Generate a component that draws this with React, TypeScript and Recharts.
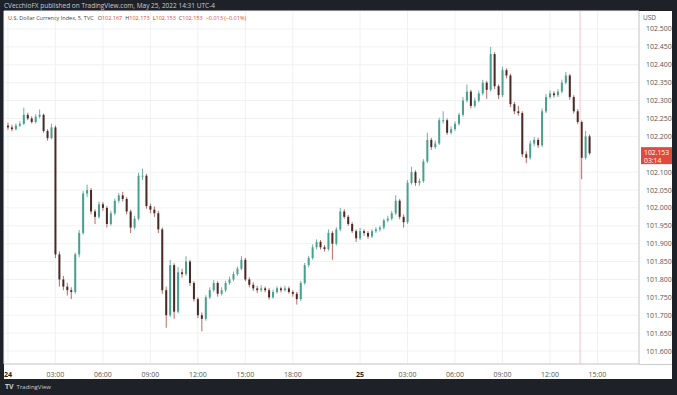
import React from 'react';
import { ComposedChart, Bar, XAxis, YAxis, CartesianGrid, ReferenceLine } from 'recharts';

// 15-minute candles, index 0 = 24 May 00:00
const firstOpen = 102.23;

const closes = [
  102.225, 102.22, 102.23, 102.235, 102.26, 102.25, 102.24, 102.255, 102.26, 102.215,
  102.195, 102.225, 101.87, 101.8, 101.78, 101.77, 101.765, 101.87, 101.93, 102.04,
  102.05, 101.99, 101.975, 102.01, 102.0, 101.955, 101.985, 102.02, 102.035, 102.025,
  101.99, 101.945, 101.97, 102.09, 102.09, 102.005, 101.995, 101.985, 101.94, 101.77,
  101.7, 101.84, 101.71, 101.82, 101.815, 101.85, 101.79, 101.745, 101.7, 101.69,
  101.75, 101.77, 101.79, 101.76, 101.77, 101.79, 101.8, 101.815, 101.83, 101.855,
  101.8, 101.785, 101.775, 101.77, 101.775, 101.77, 101.75, 101.765, 101.775, 101.77,
  101.775, 101.765, 101.76, 101.745, 101.79, 101.84, 101.86, 101.89, 101.905, 101.89,
  101.885, 101.93, 101.9, 101.94, 101.99, 101.975, 101.955, 101.935, 101.915, 101.935,
  101.93, 101.92, 101.935, 101.94, 101.945, 101.965, 101.97, 101.985, 102.02, 101.975,
  101.96, 102.07, 102.1, 102.07, 102.075, 102.13, 102.19, 102.17, 102.18, 102.245,
  102.245, 102.21, 102.22, 102.235, 102.26, 102.3, 102.325, 102.285, 102.3, 102.32,
  102.35, 102.33, 102.43, 102.34, 102.315, 102.385, 102.37, 102.29, 102.27, 102.265,
  102.15, 102.14, 102.18, 102.19, 102.175, 102.27, 102.31, 102.32, 102.315, 102.325,
  102.35, 102.37, 102.31, 102.27, 102.24, 102.14, 102.2, 102.153,
];

const highs = [
  102.238, 102.232, 102.236, 102.242, 102.28, 102.266, 102.256, 102.262, 102.275, 102.264,
  102.22, 102.235, 102.23, 101.878, 101.81, 101.79, 101.778, 101.875, 101.938, 102.048,
  102.065, 102.055, 101.996, 102.018, 102.016, 102.005, 101.992, 102.026, 102.042, 102.045,
  102.03, 101.995, 101.978, 102.098, 102.11, 102.095, 102.012, 102.004, 101.992, 101.945,
  101.78, 101.855, 101.845, 101.835, 101.83, 101.865, 101.855, 101.795, 101.75, 101.708,
  101.756, 101.778, 101.798, 101.795, 101.778, 101.796, 101.808, 101.822, 101.836, 101.865,
  101.86, 101.806, 101.792, 101.782, 101.784, 101.78, 101.776, 101.772, 101.781, 101.78,
  101.782, 101.78, 101.77, 101.765, 101.796, 101.846, 101.866, 101.898, 101.912, 101.91,
  101.896, 101.94, 101.935, 101.946, 102.0, 101.996, 101.98, 101.96, 101.94, 101.944,
  101.94, 101.935, 101.94, 101.946, 101.95, 101.97, 101.978, 101.992, 102.035, 102.025,
  101.982, 102.078, 102.115, 102.105, 102.082, 102.136, 102.21, 102.196, 102.188, 102.252,
  102.27, 102.25, 102.228, 102.242, 102.266, 102.31, 102.345, 102.33, 102.308, 102.328,
  102.358, 102.355, 102.45, 102.435, 102.345, 102.395, 102.39, 102.375, 102.296, 102.285,
  102.27, 102.158, 102.188, 102.198, 102.196, 102.278, 102.318, 102.328, 102.326, 102.332,
  102.358, 102.38, 102.374, 102.315, 102.276, 102.244, 102.215, 102.205,
];

const lows = [
  102.218, 102.214, 102.216, 102.226, 102.232, 102.245, 102.236, 102.236, 102.25, 102.21,
  102.188, 102.192, 101.86, 101.78, 101.77, 101.755, 101.745, 101.76, 101.862, 101.925,
  102.03, 101.982, 101.955, 101.97, 101.992, 101.945, 101.95, 101.98, 102.014, 102.018,
  101.982, 101.93, 101.94, 101.965, 102.078, 101.998, 101.985, 101.975, 101.93, 101.76,
  101.665, 101.695, 101.69, 101.705, 101.805, 101.81, 101.782, 101.738, 101.692, 101.655,
  101.685, 101.745, 101.765, 101.752, 101.755, 101.765, 101.785, 101.795, 101.81, 101.826,
  101.795, 101.778, 101.768, 101.762, 101.765, 101.764, 101.744, 101.746, 101.76, 101.764,
  101.766, 101.76, 101.752, 101.73, 101.74, 101.785, 101.834, 101.855, 101.884, 101.884,
  101.878, 101.88, 101.855, 101.895, 101.935, 101.97, 101.95, 101.93, 101.905, 101.91,
  101.922, 101.914, 101.916, 101.93, 101.934, 101.94, 101.96, 101.965, 101.98, 101.968,
  101.945, 101.955, 102.065, 102.062, 102.062, 102.07, 102.125, 102.162, 102.165, 102.176,
  102.236, 102.204, 102.205, 102.215, 102.23, 102.255, 102.295, 102.278, 102.28, 102.295,
  102.315, 102.305, 102.325, 102.332, 102.305, 102.31, 102.362, 102.282, 102.262, 102.258,
  102.142, 102.125, 102.135, 102.172, 102.168, 102.17, 102.265, 102.305, 102.308, 102.31,
  102.32, 102.345, 102.302, 102.264, 102.234, 102.08, 102.135, 102.148,
];

const timeTicks = [0, 12, 24, 36, 48, 60, 72, 89, 101, 113, 125, 137, 149];
const timeLabels = ['24', '03:00', '06:00', '09:00', '12:00', '15:00', '18:00', '25', '03:00', '06:00', '09:00', '12:00', '15:00'];
const dayLabels = ['24', '25'];

// 102.150 sits under the last-price tag, so it is not listed
const priceTicks = [
  101.6, 101.65, 101.7, 101.75, 101.8, 101.85, 101.9, 101.95, 102.0,
  102.05, 102.1, 102.2, 102.25, 102.3, 102.35, 102.4, 102.45, 102.5,
];

const lastPrice = 102.153;
const countdown = '03:14';
const markerIndex = 144.6;

const legendName = 'U.S. Dollar Currency Index, 5, TVC';
const legendKeys = ['O', 'H', 'L', 'C'];
const legendValues = ['102.167', '102.173', '102.153', '102.153'];
const legendChange = '\u22120.013 (\u22120.01%)';

const data = closes.map((c, i) => {
  const o = i === 0 ? firstOpen : closes[i - 1];
  return { i, o, h: highs[i], l: lows[i], c, range: [lows[i], highs[i]] };
});

const UP = '#48a08f';
const DOWN = '#a8443a';
const DOWN_BODY = '#4a2824';
const RED_TAG = '#df4a3c';
const FONT = '"Open Sans", "DejaVu Sans", sans-serif';

const Candle = (props: any) => {
  const { x, y, width, height, payload } = props;
  if (!payload) return null;
  const { o, h, l, c } = payload;
  const up = c >= o;
  const k = height / (h - l || 1);
  const yO = y + (h - o) * k;
  const yC = y + (h - c) * k;
  const top = Math.min(yO, yC);
  const bh = Math.max(1, Math.abs(yO - yC));
  const cx = x + width / 2;
  return (
    <g>
      <line x1={cx} x2={cx} y1={y} y2={y + height} stroke={up ? UP : DOWN} strokeWidth={0.8} />
      <rect x={x} y={top} width={width} height={bh} fill={up ? UP : DOWN_BODY} />
    </g>
  );
};

const TimeTick = (props: any) => {
  const { x, y, payload } = props;
  const idx = timeTicks.indexOf(payload.value);
  const label = timeLabels[idx] ?? '';
  const bold = dayLabels.includes(label) && (idx === 0 || idx === 7);
  return (
    <text
      x={x}
      y={y + 11}
      textAnchor="middle"
      fontSize={7}
      fontFamily={FONT}
      fontWeight={bold ? 700 : 400}
      fill={bold ? '#222' : '#555'}
    >
      {label}
    </text>
  );
};

const PriceTick = (props: any) => {
  const { x, y, payload } = props;
  return (
    <text x={x + 5} y={y + 2.5} textAnchor="start" fontSize={7} fontFamily={FONT} fill="#555">
      {payload.value.toFixed(3)}
    </text>
  );
};

const PriceTag = (props: any) => {
  const vb = props.viewBox || {};
  const right = (vb.x ?? 0) + (vb.width ?? 0);
  const yy = vb.y ?? 0;
  return (
    <g>
      <rect x={right + 2} y={yy - 6} width={31} height={17} fill={RED_TAG} />
      <text x={right + 5} y={yy + 2} fontSize={6.8} fontFamily={FONT} fill="#fff">
        {lastPrice.toFixed(3)}
      </text>
      <text x={right + 5} y={yy + 9.5} fontSize={6.8} fontFamily={FONT} fill="#fff">
        {countdown}
      </text>
    </g>
  );
};

export default function App() {
  return (
    <div
      style={{
        position: 'fixed',
        left: 0,
        top: 0,
        width: 677,
        height: 395,
        background: '#1f2128',
        overflow: 'hidden',
        fontFamily: FONT,
      }}
    >
      <div style={{ position: 'absolute', left: 4, top: 11, width: 668, height: 368, background: '#fff' }} />
      <div
        style={{
          position: 'absolute',
          left: 4,
          top: 1,
          fontSize: 6.5,
          color: '#c9cbd1',
          whiteSpace: 'nowrap',
          lineHeight: '9px',
        }}
      >
        CVecchioFX published on TradingView.com, May 25, 2022 14:31 UTC-4
      </div>

      <div style={{ position: 'absolute', left: 0, top: 0 }}>
        <ComposedChart
          width={677}
          height={395}
          data={data}
          margin={{ top: 11, right: 5, left: 4, bottom: 16 }}
        >
          <CartesianGrid stroke="#f0f1f3" strokeWidth={1} />
          <XAxis
            dataKey="i"
            type="number"
            domain={[-1, 159.5]}
            ticks={timeTicks}
            allowDataOverflow
            height={15}
            tickLine={false}
            tickSize={0}
            tick={<TimeTick />}
            axisLine={{ stroke: '#c8c9cc' }}
            interval={0}
          />
          <YAxis
            orientation="right"
            type="number"
            domain={[101.5637, 102.5503]}
            ticks={priceTicks}
            allowDataOverflow
            width={33}
            tickLine={false}
            tickSize={0}
            tick={<PriceTick />}
            axisLine={{ stroke: '#c8c9cc' }}
            interval={0}
          />
          <ReferenceLine x={markerIndex} stroke="#f3c4c4" strokeWidth={1} />
          <Bar dataKey="range" barSize={2} shape={<Candle />} isAnimationActive={false} />
          <ReferenceLine
            y={lastPrice}
            stroke="transparent"
            ifOverflow="visible"
            label={<PriceTag />}
          />
        </ComposedChart>
      </div>

      <div
        style={{
          position: 'absolute',
          left: 8,
          top: 14,
          fontSize: 5.5,
          color: '#444',
          whiteSpace: 'nowrap',
          lineHeight: '8px',
        }}
      >
        {legendName}
        <span style={{ marginLeft: 4 }} />
        {legendKeys.map((k, i) => (
          <span key={k} style={{ marginRight: 3 }}>
            {k}
            <span style={{ color: '#d9463a' }}>{legendValues[i]}</span>
          </span>
        ))}
        <span style={{ color: '#d9463a' }}>{legendChange}</span>
      </div>
      <div style={{ position: 'absolute', left: 643, top: 13, fontSize: 6.5, color: '#555' }}>USD</div>
      <div style={{ position: 'absolute', left: 639, top: 364, width: 33, height: 1, background: '#c8c9cc' }} />
      <div
        style={{
          position: 'absolute',
          left: 5,
          top: 382,
          fontSize: 6,
          color: '#c9cbd1',
          whiteSpace: 'nowrap',
          lineHeight: '10px',
        }}
      >
        <span style={{ fontWeight: 700, fontSize: 7, marginRight: 3 }}>TV</span>
        TradingView
      </div>
    </div>
  );
}
